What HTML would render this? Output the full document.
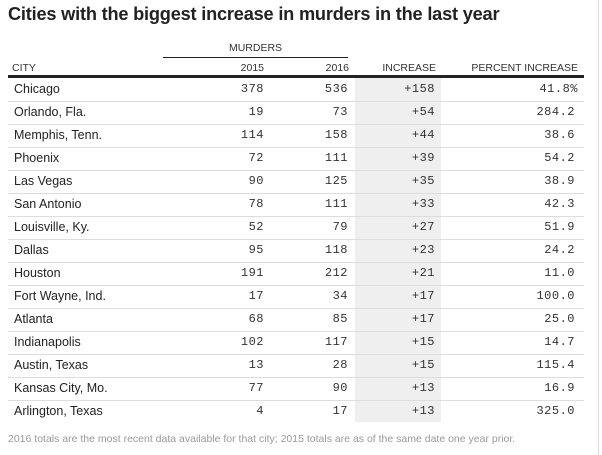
<!DOCTYPE html>
<html><head><meta charset="utf-8"><style>
body{margin:0;width:602px;height:455px;background:#fff;position:relative;overflow:hidden;font-family:"Liberation Sans",sans-serif;color:#222}
#title{position:absolute;left:8px;top:4px;font-size:18.2px;font-weight:bold;letter-spacing:-0.2px;color:#222;margin:0}
#vline{position:absolute;left:598px;top:0;width:1px;height:455px;background:#ddd}
.h{position:absolute;font-size:10.5px;color:#333;top:62px}
#shade{position:absolute;left:355px;top:78px;width:86px;height:344px;background:#efefef}
.row{position:absolute;left:8px;width:576px;height:23px;border-bottom:1px solid #ddd}
.row span{position:absolute;top:4px;font-size:12.5px}
.c{left:6px;font-family:"Liberation Sans",sans-serif;color:#222}
.n{font-family:"Liberation Mono",monospace;font-size:12px!important;color:#333;text-align:right;letter-spacing:0.5px}
#foot{position:absolute;left:8px;top:433px;font-size:10.5px;color:#999}
</style></head><body>
<div id="vline"></div>
<h1 id="title">Cities with the biggest increase in murders in the last year</h1>
<div class="h" style="left:163px;top:42px;width:185px;text-align:center;border-bottom:1px solid #222;padding-bottom:3px">MURDERS</div>
<div class="h" style="left:12px">CITY</div>
<div class="h" style="right:338px">2015</div>
<div class="h" style="right:253px">2016</div>
<div class="h" style="right:166px">INCREASE</div>
<div class="h" style="right:24px">PERCENT INCREASE</div>
<div style="position:absolute;left:8px;top:75px;width:576px;height:3px;background:#222"></div>
<div id="shade"></div>
<div id="rows"></div>
<div id="foot">2016 totals are the most recent data available for that city; 2015 totals are as of the same date one year prior.</div>
<script>
const cities=["Chicago","Orlando, Fla.","Memphis, Tenn.","Phoenix","Las Vegas","San Antonio","Louisville, Ky.","Dallas","Houston","Fort Wayne, Ind.","Atlanta","Indianapolis","Austin, Texas","Kansas City, Mo.","Arlington, Texas"];
const v2015=[378,19,114,72,90,78,52,95,191,17,68,102,13,77,4];
const v2016=[536,73,158,111,125,111,79,118,212,34,85,117,28,90,17];
const increases=["+158","+54","+44","+39","+35","+33","+27","+23","+21","+17","+17","+15","+15","+13","+13"];
const percents=["41.8%","284.2","38.6","54.2","38.9","42.3","51.9","24.2","11.0","100.0","25.0","14.7","115.4","16.9","325.0"];
const rowsEl=document.getElementById('rows');
cities.forEach((c,i)=>{
 const r=document.createElement('div');r.className='row';r.style.top=(78+i*23)+'px';
 if(i===cities.length-1)r.style.borderBottom='none';
 
 
 const cells=[[c,'c',null],[v2015[i],'n',320],[v2016[i],'n',236],[increases[i],'n',149],[percents[i],'n',percents[i].endsWith('%')?6:9]];
 const names=['city','murders-2015','murders-2016','increase','percent-increase'];
 cells.forEach((cl,j)=>{
  const s=document.createElement('span');s.className=cl[1];s.textContent=cl[0];
  if(cl[2]!==null)s.style.right=cl[2]+'px';
  
  
  r.appendChild(s);
 });
 rowsEl.appendChild(r);
});
</script>
</body></html>
